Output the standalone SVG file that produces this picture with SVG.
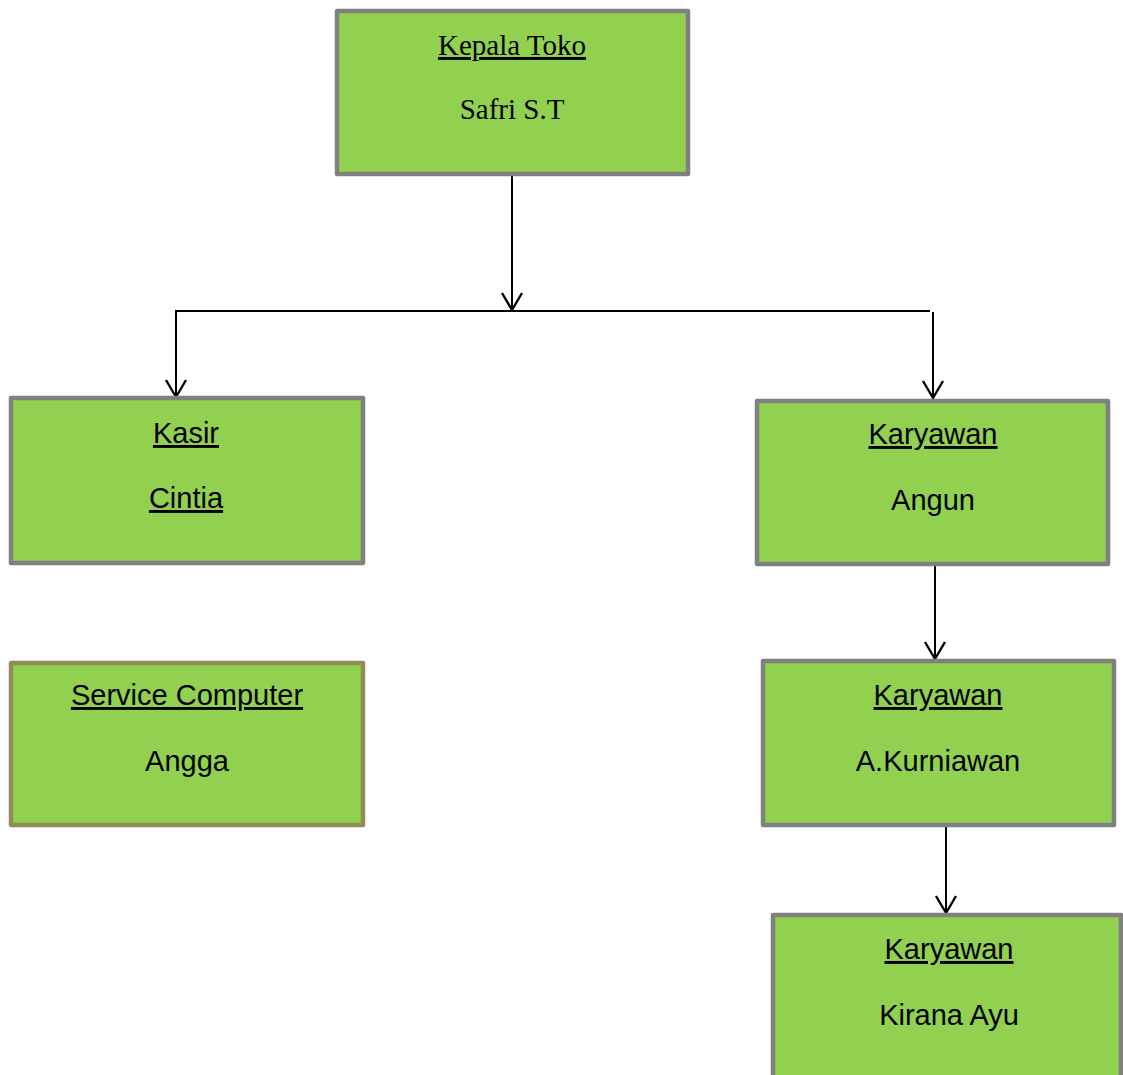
<svg xmlns="http://www.w3.org/2000/svg" width="1123" height="1075" viewBox="0 0 1123 1075">
<style>
.box{fill:#92D050;stroke:#808080;stroke-width:4.5;stroke-linejoin:round}
.olive{stroke:#958B55}
.sans{font-family:"Liberation Sans",Arial,sans-serif;font-size:29px;fill:#000;text-anchor:middle}
.serif{font-family:"Liberation Serif","Times New Roman",serif;font-size:29px;fill:#000;text-anchor:middle}
.u{text-decoration:underline}
.conn{fill:none;stroke:#000;stroke-width:2}
</style>
<defs>
<marker id="arr" markerUnits="userSpaceOnUse" viewBox="-22 -13 26 26" refX="0" refY="0" markerWidth="26" markerHeight="26" orient="auto">
<path d="M-17,-10 L0,0 L-17,10" fill="none" stroke="#000" stroke-width="2.4"/>
</marker>
</defs>
<rect width="1123" height="1075" fill="#fff"/>
<g id="connectors">
<line class="conn" x1="512" y1="176" x2="512" y2="310" marker-end="url(#arr)"/>
<polyline class="conn" points="176,312 176,311 930,311"/>
<line class="conn" x1="176" y1="311" x2="176" y2="397" marker-end="url(#arr)"/>
<line class="conn" x1="933" y1="312" x2="933" y2="398" marker-end="url(#arr)"/>
<line class="conn" x1="935" y1="566" x2="935" y2="659" marker-end="url(#arr)"/>
<line class="conn" x1="946" y1="827" x2="946" y2="913" marker-end="url(#arr)"/>
</g>
<g id="kepala">
<rect class="box" x="337" y="11" width="351" height="163"/>
<text class="serif u" x="512" y="55">Kepala Toko</text>
<text class="serif" x="512" y="119">Safri S.T</text>
</g>
<g id="kasir">
<rect class="box" x="11" y="398" width="352" height="165"/>
<text class="sans u" x="186" y="443">Kasir</text>
<text class="sans u" x="186" y="508">Cintia</text>
</g>
<g id="service">
<rect class="box olive" x="11" y="663" width="352" height="162"/>
<text class="sans u" x="187" y="705">Service Computer</text>
<text class="sans" x="187" y="771">Angga</text>
</g>
<g id="karyawan1">
<rect class="box" x="757" y="401" width="351" height="163"/>
<text class="sans u" x="933" y="444">Karyawan</text>
<text class="sans" x="933" y="510">Angun</text>
</g>
<g id="karyawan2">
<rect class="box" x="763" y="661" width="351" height="164"/>
<text class="sans u" x="938" y="705">Karyawan</text>
<text class="sans" x="938" y="771">A.Kurniawan</text>
</g>
<g id="karyawan3">
<rect class="box" x="773" y="915" width="348" height="180"/>
<text class="sans u" x="949" y="959">Karyawan</text>
<text class="sans" x="949" y="1025">Kirana Ayu</text>
</g>
</svg>
